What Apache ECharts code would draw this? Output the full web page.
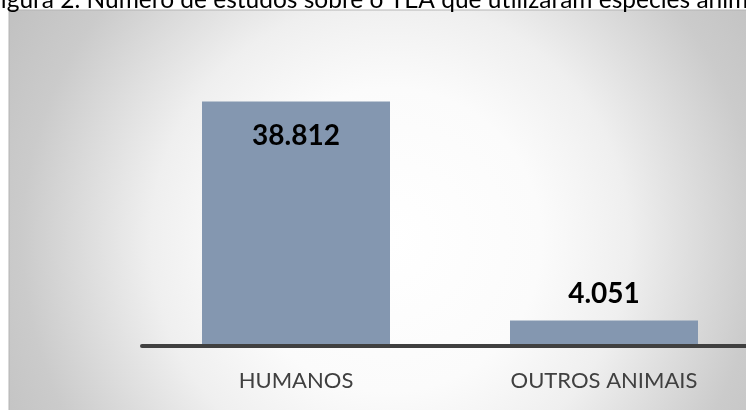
<!DOCTYPE html>
<html>
<head>
<meta charset="utf-8">
<title>Figura 2</title>
<script src="https://cdn.jsdelivr.net/npm/echarts@6/dist/echarts.min.js"></script>
<style>
  html, body { margin: 0; padding: 0; background: #ffffff; overflow: hidden; }
  body { width: 746px; height: 410px; }
  /* the plot frame runs a little past the right edge of the page */
  #chart { width: 770px; height: 410px; }
</style>
</head>
<body>
<div id="chart"></div>
<script>
// Figure data
const titleText = 'Figura 2. Número de estudos sobre o TEA que utilizaram espécies animais';
const categories = ['HUMANOS', 'OUTROS ANIMAIS'];
const studyCounts = [38812, 4051];

// Portuguese thousands separator: 38812 -> "38.812"
function fmtPt(v) {
  return String(v).replace(/\B(?=(\d{3})+(?!\d))/g, '.');
}

const chart = echarts.init(document.getElementById('chart'), null, { renderer: 'canvas' });

const seriesData = studyCounts.map(function (v, i) {
  const inside = i === 0;
  return {
    value: v,
    label: inside
      ? { position: 'insideTop', distance: 20 }
      : { position: 'top', distance: 13 }
  };
});

chart.setOption({
  animation: false,
  backgroundColor: '#ffffff',
  graphic: [
    {
      type: 'rect',
      z: -10,
      silent: true,
      shape: { x: 9, y: 10, width: 770, height: 410 },
      style: {
        fill: {
          type: 'radial',
          global: true,
          x: 390, y: 240, r: 460,
          colorStops: [
            { offset: 0, color: '#ffffff' },
            { offset: 0.33, color: '#fbfbfb' },
            { offset: 0.52, color: '#efefef' },
            { offset: 0.80, color: '#cbcbcb' },
            { offset: 1, color: '#bfbfbf' }
          ]
        },
        stroke: '#b4b4b4',
        lineWidth: 1
      }
    },
    {
      type: 'text',
      z: 10,
      silent: true,
      x: -13,
      y: 0,
      style: {
        text: titleText,
        fill: '#000000',
        font: '24.5px Lato, "Noto Sans", sans-serif',
        align: 'left',
        verticalAlign: 'middle'
      }
    }
  ],
  grid: { left: 142, width: 616, top: 31, bottom: 64, containLabel: false },
  xAxis: {
    type: 'category',
    data: categories,
    z: 5,
    axisLine: { show: true, lineStyle: { color: '#404040', width: 4 } },
    axisTick: { show: false },
    axisLabel: {
      margin: 24,
      color: '#404040',
      fontFamily: 'Lato, "Noto Sans", sans-serif',
      fontSize: 22
    }
  },
  yAxis: {
    type: 'value',
    min: 0,
    max: 50000,
    show: false,
    splitLine: { show: false }
  },
  series: [{
    type: 'bar',
    data: seriesData,
    barWidth: 188,
    itemStyle: { color: '#8497b0' },
    label: {
      show: true,
      color: '#000000',
      fontFamily: 'Lato, "Noto Sans", sans-serif',
      fontWeight: 'bold',
      fontSize: 28,
      formatter: function (p) { return fmtPt(p.value); }
    }
  }]
});
</script>
</body>
</html>
